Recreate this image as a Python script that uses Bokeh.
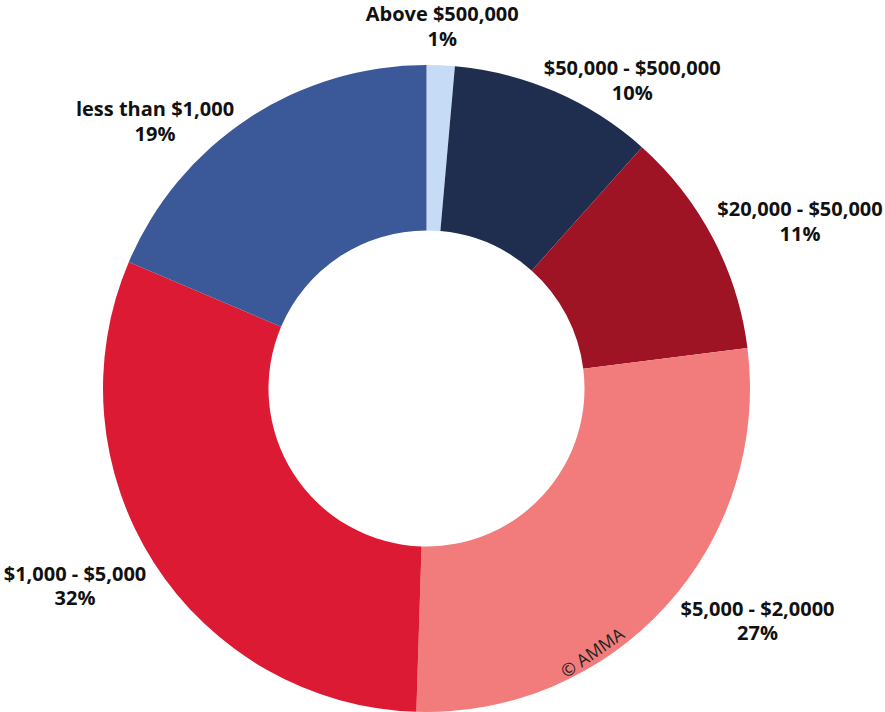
import numpy as np
from bokeh.plotting import figure
from bokeh.models import Range1d, ColumnDataSource
from bokeh.embed import file_html
from bokeh.resources import INLINE
from bokeh.core.properties import value

# ---- data ----
categories = ["Above $500,000", "$50,000 - $500,000", "$20,000 - $50,000",
              "$5,000 - $2,0000", "$1,000 - $5,000", "less than $1,000"]
shares = [1.4, 10.2, 11.4, 27.5, 30.9, 18.6]
pct_labels = ["1%", "10%", "11%", "27%", "32%", "19%"]
colors = ["#c6dbf5", "#1f2d4f", "#9e1425", "#f27c7b", "#dc1a33", "#3b5898"]

# ---- layout (label anchor offsets from the donut centre, x right / y up) ----
label_dx = [15.7, 205.7, 373.5, 331.0, -351.5, -271.5]
label_dy = [375.0, 321.0, 180.0, -219.5, -184.5, 280.0]
line_gap = 24.5
outer_r = 323.5
inner_r = 158.0

W, H = 885, 712
scale = 1.0
x0 = -426.0
y1 = 388.0

vals = np.array(shares, dtype=float)
frac = vals / vals.sum()
cum_after = np.cumsum(frac)
cum_before = cum_after - frac
start = np.pi / 2 - 2 * np.pi * cum_before
end = np.pi / 2 - 2 * np.pi * cum_after

src = ColumnDataSource(dict(cat=categories, start=start, end=end, color=colors))

p = figure(width=W, height=H, output_backend="svg", toolbar_location=None,
           x_range=Range1d(x0, x0 + W / scale), y_range=Range1d(y1 - H / scale, y1),
           min_border=0, outline_line_color=None)
p.axis.visible = False
p.grid.visible = False
p.background_fill_color = "white"
p.border_fill_color = "white"

p.annular_wedge(x=0, y=0, inner_radius=inner_r, outer_radius=outer_r,
                start_angle="start", end_angle="end", direction="clock",
                fill_color="color", line_color=None, source=src)

lab = ColumnDataSource(dict(
    x=label_dx, y=label_dy, y2=[v - line_gap for v in label_dy],
    name=categories, pct=pct_labels))
p.text(x="x", y="y", text="name", source=lab, text_align="center",
       text_baseline="middle", text_font=value("Open Sans"),
       text_font_style="bold", text_font_size="20px", text_color="#111111")
p.text(x="x", y="y2", text="pct", source=lab, text_align="center",
       text_baseline="middle", text_font=value("Open Sans"),
       text_font_style="bold", text_font_size="20px", text_color="#111111")

p.text(x=[165.5], y=[-263.5], text=["© AMMA"], angle=0.61,
       text_align="center", text_baseline="middle",
       text_font=value("Open Sans"), text_font_size="17.5px", text_color="#222222")

open("out.html", "w").write(file_html(p, INLINE))
